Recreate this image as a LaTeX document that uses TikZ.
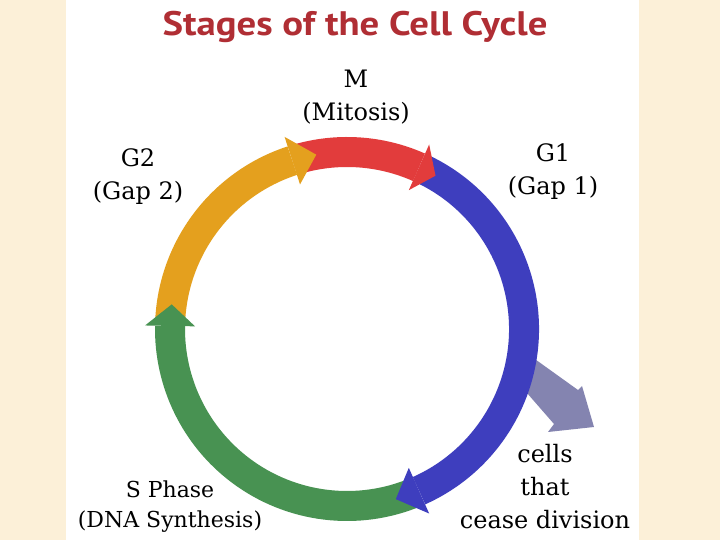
\documentclass[tikz,border=0pt]{standalone}
\usepackage{fontspec}
\newfontfamily\titlefont{PT Sans}
\newfontfamily\labelfont{DejaVu Serif}
\usetikzlibrary{calc}
\definecolor{paper}{RGB}{252,240,216}
\definecolor{titlered}{RGB}{176,46,52}
\definecolor{mred}{RGB}{226,60,60}
\definecolor{gonblue}{RGB}{62,62,190}
\definecolor{sgreen}{RGB}{72,146,82}
\definecolor{gtwo}{RGB}{228,160,30}
\definecolor{gzero}{RGB}{132,132,176}

\begin{document}
\begin{tikzpicture}[
    x=1pt, y=1pt,
    phase/.style={line width=30pt},
    phaselabel/.style={
      align=center,
      inner sep=0pt,
      font=\labelfont\fontsize{24}{33}\selectfont
    }
  ]

    % Background
    \useasboundingbox (0,0) rectangle (720,540);
    \fill[paper] (0,0) rectangle (720,540);
    \fill[white] (66,0) rectangle (639,540);

    \coordinate (c) at (347,211);

    % Title
    \node[text=titlered, font=\titlefont\bfseries\fontsize{34}{40}\selectfont] (title) at (355,513)
      {\scalebox{1.14}[1]{Stages of the Cell Cycle}};

    % Exit arrow (G0)
    \fill[gzero] (525,188) -- (578,150) -- (582,154) -- (594,113)
      -- (548,108) -- (554,116) -- (520,155) -- cycle;

    % Ring bodies
    \draw[phase, mred] ($(c)+(107:177pt)$) arc[start angle=107, end angle=66, radius=177pt];
    \draw[phase, gonblue] ($(c)+(65:177pt)$) arc[start angle=65, end angle=-66, radius=177pt];
    \draw[phase, sgreen] ($(c)+(-67:177pt)$) arc[start angle=-67, end angle=-181, radius=177pt];
    \draw[phase, gtwo] ($(c)+(178:177pt)$) arc[start angle=178, end angle=108, radius=177pt];

    % Arrow heads
    \fill[mred] ($(c)+(66:152pt)$) -- ($(c)+(66:202pt)$) -- ($(c)+(60:177pt)$) -- cycle;
    \fill[gonblue] ($(c)+(-66:152pt)$) -- ($(c)+(-66:202pt)$) -- ($(c)+(-74:177pt)$) -- cycle;
    \fill[sgreen] ($(c)+(179:152pt)$) -- ($(c)+(179:202pt)$) -- ($(c)+(172:177pt)$) -- cycle;
    \fill[gtwo] ($(c)+(108:152pt)$) -- ($(c)+(108:202pt)$) -- ($(c)+(100:177pt)$) -- cycle;

    % Labels
    \node[phaselabel] (m) at (356,443) {M\\(Mitosis)};
    \node[phaselabel] (g2) at (138,363) {G2\\(Gap 2)};
    \node[phaselabel] (g1) at (553,368) {G1\\(Gap 1)};
    \node[phaselabel] (cease) at (545,53) {cells\\that\\cease division};
    \node[phaselabel, font=\labelfont\fontsize{22}{30}\selectfont] (s) at (170,33) {S Phase\\(DNA Synthesis)};

  \end{tikzpicture}
\end{document}
